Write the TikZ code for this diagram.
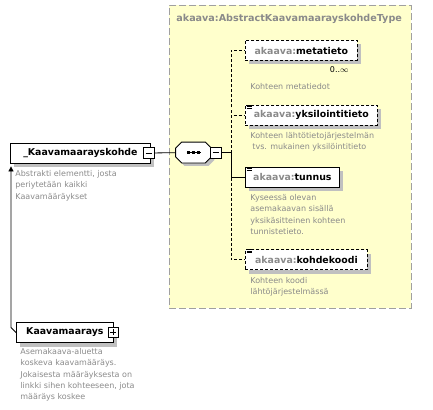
\documentclass[tikz,border=0pt]{standalone}
\usepackage{fontspec}
\setmainfont{DejaVu Sans}
\usetikzlibrary{arrows.meta, shadows, positioning}
\definecolor{XsdYellow}{HTML}{FFFFCC}
\definecolor{XsdGrey}{HTML}{8A8A8A}
\definecolor{XsdBorder}{HTML}{A0A0A0}
\definecolor{XsdShadow}{HTML}{C0C0C0}

\begin{document}
\begin{tikzpicture}[x=1pt, y=-1pt, line width=0.8pt,
  shade4/.style={drop shadow={shadow xshift=4pt, shadow yshift=-4pt, fill=XsdShadow, opacity=1}},
  elem/.style={rectangle, draw, fill=white, anchor=west, minimum height=20pt, inner sep=0pt, font=\bfseries\fontsize{9.4}{11}\selectfont, shade4},
  optelem/.style={elem, dash pattern=on 3pt off 2pt},
  desc/.style={anchor=north west, inner sep=0pt, align=left, text=XsdGrey, font=\fontsize{8}{11.3}\selectfont},
  ctrl/.style={rectangle, draw, fill=white, minimum size=11pt, inner sep=0pt, line width=0.8pt},
  minusbox/.style={ctrl, path picture={\draw ([xshift=2.5pt]path picture bounding box.west) -- ([xshift=-2.5pt]path picture bounding box.east);}},
  plusbox/.style={ctrl, path picture={\draw ([xshift=2pt]path picture bounding box.west) -- ([xshift=-2pt]path picture bounding box.east); \draw ([yshift=-2pt]path picture bounding box.north) -- ([yshift=2pt]path picture bounding box.south);}},
  optline/.style={dash pattern=on 3pt off 2pt}]

    \useasboundingbox (0,0) rectangle (433,409);

    % complex type area
    \node[rectangle, fill=XsdYellow, draw=XsdBorder, dash pattern=on 7pt off 3pt, minimum width=242pt, minimum height=303pt, anchor=north west] (typebox) at (169,5) {};
    \node[anchor=west, inner sep=0pt, text=XsdGrey, font=\bfseries\fontsize{9.6}{11}\selectfont] (typename) at (176,19) {akaava:AbstractKaavamaarayskohdeType};

    % elements
    \node[elem, minimum width=140pt] (kohde) at (10,153) {\_Kaavamaarayskohde};
    \node[minusbox] (kohdeminus) at (148.5,153) {};
    \node[elem, minimum width=97pt] (kaav) at (16,332.5) {Kaavamaarays};
    \node[plusbox, minimum size=10pt] (kaavplus) at (113,332) {};

    \node[rectangle, inner sep=0pt, minimum width=35pt, minimum height=20pt] (seq) at (193.5,152.5) {};
    \path[draw, fill=white, drop shadow={shadow xshift=3pt, shadow yshift=-3pt, fill=XsdShadow, opacity=1}]
        ([xshift=6pt]seq.north west) -- ([xshift=-6pt]seq.north east) -- ([yshift=-6pt]seq.north east)
        -- ([yshift=6pt]seq.south east) -- ([xshift=-6pt]seq.south east) -- ([xshift=6pt]seq.south west)
        -- ([yshift=6pt]seq.south west) -- ([yshift=-6pt]seq.north west) -- cycle;
    \node[minusbox] (seqminus) at (215.5,152.5) {};
    \coordinate (seqjoin) at (231,152.5);

    \node[optelem, minimum width=112pt] (meta) at (245,50.5) {\textcolor{XsdGrey}{akaava:}metatieto};
    \node[optelem, minimum width=132pt] (yks) at (245,115) {\textcolor{XsdGrey}{akaava:}yksilointitieto};
    \node[elem, minimum width=94pt] (tunnus) at (245,177) {\textcolor{XsdGrey}{akaava:}tunnus};
    \node[optelem, minimum width=122pt] (koodi) at (245,259.5) {\textcolor{XsdGrey}{akaava:}kohdekoodi};
    \node[anchor=east, inner sep=0pt, font=\fontsize{8}{10}\selectfont] (metaocc) at (349,70) {0..$\infty$};

    % descriptions
    \node[desc] (kohdedesc) at (15,170) {Abstrakti elementti, josta\\periytetään kaikki\\Kaavamääräykset};
    \node[desc] (kaavdesc) at (20,348) {Asemakaava-aluetta\\koskeva kaavamääräys.\\Jokaisesta määräyksesta on\\linkki sihen kohteeseen, jota\\määräys koskee};
    \node[desc] (metadesc) at (250,83) {Kohteen metatiedot};
    \node[desc] (yksdesc) at (250,132) {Kohteen lähtötietojärjestelmän\\\hspace{2pt}tvs. mukainen yksilöintitieto};
    \node[desc] (tunnusdesc) at (250,194) {Kyseessä olevan\\asemakaavan sisällä\\yksikäsitteinen kohteen\\tunnistetieto.};
    \node[desc] (koodidesc) at (250,277) {Kohteen koodi\\lähtöjärjestelmässä};

    % sequence marks
    \draw ([xshift=-7pt]seq.center) -- ([xshift=7pt]seq.center);
    \foreach \dx in {-5,0,5}
        \fill ([xshift=\dx pt]seq.center) +(-1.5,-1.5) rectangle +(1.5,1.5);

    % element icons
    \foreach \n in {yks, tunnus, koodi}
        \foreach \dy in {0.5,2,3.5}
            \draw[line width=0.6pt] ([shift={(1.5,\dy)}]\n.north west) -- ++(5,0);

    % connectors
    \draw (kohdeminus) -- (seq);
    \draw (seqminus) -- (seqjoin);
    \draw (seqjoin) |- (tunnus);
    \draw[optline] (seqjoin) |- (meta);
    \draw[optline] (seqjoin) |- (yks);
    \draw[optline] (seqjoin) |- (koodi);
    \draw[-{Triangle[length=5pt, width=5pt]}] (kaav.west) -- ++(-5,-5) coordinate (kaavbend) -- ([yshift=-3pt]kaavbend |- kohde.south);

\end{tikzpicture}
\end{document}
